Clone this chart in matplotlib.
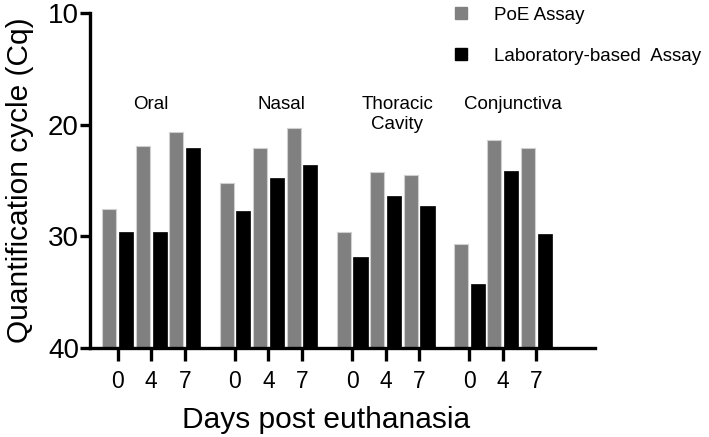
import numpy as np
import matplotlib.pyplot as plt
from matplotlib.lines import Line2D

plt.rcParams['font.family'] = ['Liberation Sans', 'DejaVu Sans']

# data
sites = ['Oral', 'Nasal', 'Thoracic\nCavity', 'Conjunctiva']
days = ['0', '4', '7']
poe = [27.6, 21.9, 20.65,
       25.25, 22.1, 20.3,
       29.6, 24.25, 24.55,
       30.7, 21.4, 22.1]
lab = [29.6, 29.6, 22.1,
       27.7, 24.8, 23.6,
       31.9, 26.4, 27.25,
       34.25, 24.15, 29.8]

fig = plt.figure(figsize=(7.09, 4.37), dpi=100)
ax = fig.add_axes([0.127, 0.204, 0.712, 0.766])

# tick positions: 3 days per site, gap between sites
pos = np.array([g * 3.5 + i for g in range(len(sites)) for i in range(len(days))])
w = 0.42
base = 40
ax.bar(pos - 0.25, np.array(poe) - base, bottom=base, width=w,
       color='#808080', edgecolor='#d0d0d0', linewidth=0.8)
ax.bar(pos + 0.25, np.array(lab) - base, bottom=base, width=w,
       color='black', edgecolor='black', linewidth=0.5)

ax.set_ylim(40, 10)
ax.set_xlim(-0.83, 14.25)
ax.set_yticks([10, 20, 30, 40])
ax.set_xticks(pos)
ax.set_xticklabels(days * len(sites))

for s in ['top', 'right']:
    ax.spines[s].set_visible(False)
for s in ['left', 'bottom']:
    ax.spines[s].set_linewidth(2.4)

ax.tick_params(axis='y', labelsize=20, width=2.4, length=7, pad=1)
ax.tick_params(axis='x', labelsize=16.5, width=2.4, length=9, pad=7)

ax.set_ylabel('Quantification cycle (Cq)', fontsize=21.5, labelpad=10)
ax.set_xlabel('Days post euthanasia', fontsize=21.5, labelpad=9)
ax.xaxis.label.set_x(0.467)

# site labels above the groups
label_x = [1.0, 4.9, 8.35, 11.8]
for name, x in zip(sites, label_x):
    ax.text(x, 17.4, name, ha='center', va='top', fontsize=13.5, linespacing=1.25)

handles = [Line2D([], [], marker='s', ls='', color='#808080', markersize=9),
           Line2D([], [], marker='s', ls='', color='black', markersize=9)]
fig.legend(handles, ['PoE Assay', 'Laboratory-based  Assay'],
           loc='upper left', bbox_to_anchor=(0.600, 1.024), frameon=False,
           fontsize=13.5, handletextpad=0.77, labelspacing=1.3)

fig.savefig('out.png', dpi=100)
